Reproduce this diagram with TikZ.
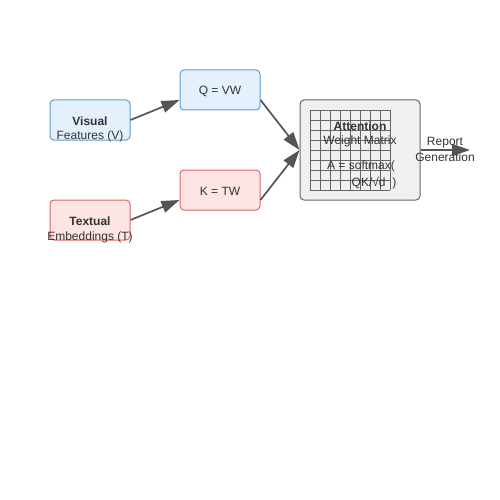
\documentclass[tikz,border=0pt]{standalone}
\usepackage{fontspec}
\setmainfont{Liberation Sans}
\usetikzlibrary{calc}
\usetikzlibrary{arrows.meta}
\usepackage{xcolor}
\definecolor{visfill}{HTML}{E4F1FC}
\definecolor{visline}{HTML}{5B9BD5}
\definecolor{txtfill}{HTML}{FFE4E4}
\definecolor{txtline}{HTML}{E06666}
\definecolor{attfill}{HTML}{F0F0F0}
\definecolor{attline}{HTML}{666666}
\definecolor{arrcol}{HTML}{555555}
\definecolor{inkcol}{HTML}{333333}

\begin{document}
\begin{tikzpicture}[x=1pt, y=-1pt,
  box/.style={rectangle, rounded corners=4pt, draw, line width=1pt, minimum width=80pt, minimum height=40pt, inner sep=0},
  word/.style={inner sep=0, yshift=-1.5pt, text=inkcol, font=\fontsize{12}{14}\selectfont},
  arr/.style={-{Triangle[length=18pt, width=12pt]}, arrcol, line width=1.7pt}]
\useasboundingbox (0,0) rectangle (500,500);

\node[box, fill=visfill, draw=visline] (vis) at (90,120) {};
\node[box, fill=txtfill, draw=txtline] (txt) at (90,220) {};
\node[box, fill=visfill, draw=visline] (q) at (220,90) {};
\node[box, fill=txtfill, draw=txtline] (k) at (220,190) {};
\node[box, fill=attfill, draw=attline, minimum width=120pt, minimum height=100pt] (att) at (360,150) {};

\draw[step=10pt, attline, line width=0.9pt] (310,110) grid (390,190);

\node[word, font=\fontsize{12}{14}\selectfont\bfseries] (vis1) at (90,120) {Visual};
\node[word] (vis2) at (90,135) {Features (V)};
\node[word, font=\fontsize{12}{14}\selectfont\bfseries] (txt1) at (90,220) {Textual};
\node[word] (txt2) at (90,236) {Embeddings (T)};
\node[word] (qlab) at (220,90) {Q = VW};
\node[word] (klab) at (220,190) {K = TW};

\node[word, font=\fontsize{12}{14}\selectfont\bfseries] (att1) at (360,125) {Attention};
\node[word] (att2) at (360,140) {Weight Matrix};
\node[word] (att3) at (361,165) {A = softmax(};
\node[word] (att4) at (374,181) {QK/√d\ \ )};

\coordinate (rep) at (470,150);
\draw[arr] (vis.east) -- ($(q.west)+(0,10)$);
\draw[arr] (txt.east) -- ($(k.west)+(0,10)$);
\draw[arr] ($(q.east)+(0,10)$) -- (att.west);
\draw[arr] ($(k.east)+(0,10)$) -- (att.west);
\draw[arr] (att.east) -- (rep);

\node[word] (rep1) at (445,141) {Report};
\node[word] (rep2) at (445,156) {Generation};

\end{tikzpicture}
\end{document}
